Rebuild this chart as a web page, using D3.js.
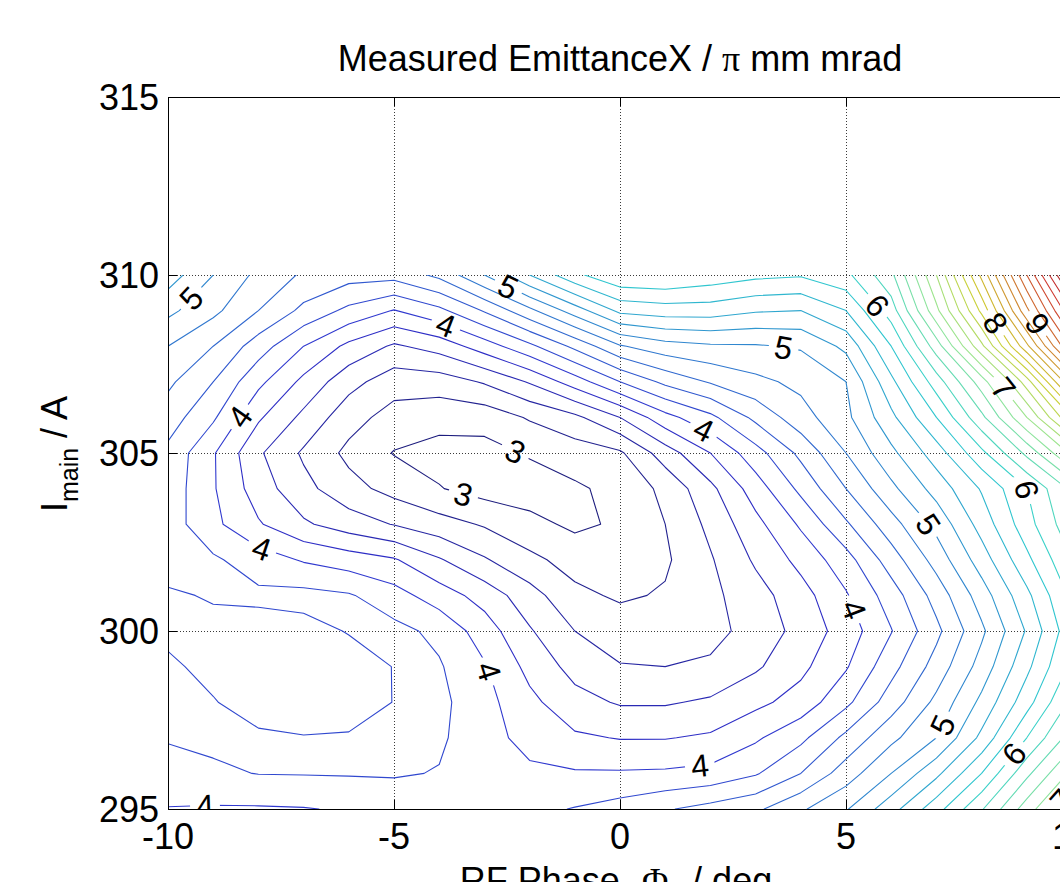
<!DOCTYPE html>
<html>
<head>
<meta charset="utf-8">
<script src="https://cdn.jsdelivr.net/npm/d3@7"></script>
<style>
  body { margin: 0; background: #ffffff; }
  svg text { font-family: "Liberation Sans", Arial, Helvetica, sans-serif; fill: #000; }
  svg tspan.sym { font-family: "Liberation Serif", "DejaVu Serif", serif; }
</style>
</head>
<body>
<svg id="chart" width="1060" height="882"></svg>
<script>
// ---- measurement grid: RF phase (deg) x main current (A) ----
const phaseDeg = [-10, -9, -8, -7, -6, -5, -4, -3, -2, -1, 0, 1, 2, 3, 4, 5, 6, 7, 8, 9, 10];
const mainCurrent = [310, 309, 308, 307, 306, 305, 304, 303, 302, 301, 300, 299, 298, 297, 296, 295];

// measured horizontal emittance, one row per main current, one column per phase
const emittance = [
  [5.30, 5.00, 4.75, 4.57, 4.48, 4.47, 4.65, 5.00, 5.40, 5.75, 5.98, 6.00, 5.92, 5.85, 5.82, 5.95, 6.35, 7.20, 8.25, 9.40, 10.60],
  [5.05, 4.85, 4.60, 4.35, 4.15, 3.99, 4.15, 4.42, 4.75, 5.10, 5.45, 5.50, 5.50, 5.42, 5.40, 5.60, 6.10, 6.95, 7.85, 8.95, 10.00],
  [4.80, 4.60, 4.30, 4.00, 3.75, 3.57, 3.68, 3.90, 4.15, 4.45, 4.78, 4.92, 4.97, 4.98, 5.02, 5.25, 5.80, 6.50, 7.35, 8.35, 9.45],
  [4.64, 4.40, 4.05, 3.75, 3.47, 3.29, 3.30, 3.42, 3.62, 3.90, 4.20, 4.45, 4.62, 4.75, 4.85, 5.00, 5.55, 6.10, 6.70, 7.50, 8.60],
  [4.50, 4.23, 3.83, 3.55, 3.28, 3.12, 3.07, 3.08, 3.22, 3.35, 3.60, 3.93, 4.15, 4.45, 4.72, 4.95, 5.35, 5.80, 6.35, 7.00, 7.80],
  [4.35, 4.02, 3.63, 3.37, 3.15, 2.99, 2.93, 2.93, 3.02, 3.10, 3.17, 3.50, 3.80, 4.12, 4.45, 4.80, 5.15, 5.50, 5.95, 6.45, 7.05],
  [4.32, 4.02, 3.70, 3.46, 3.27, 3.13, 3.01, 2.92, 2.90, 2.97, 3.06, 3.25, 3.55, 3.90, 4.25, 4.60, 4.95, 5.28, 5.62, 6.00, 6.45],
  [4.30, 4.05, 3.82, 3.63, 3.50, 3.39, 3.28, 3.18, 3.06, 2.96, 3.03, 3.20, 3.45, 3.74, 4.03, 4.37, 4.72, 5.06, 5.48, 5.92, 6.35],
  [4.30, 4.23, 4.10, 3.98, 3.90, 3.82, 3.62, 3.42, 3.25, 3.12, 3.08, 3.17, 3.38, 3.63, 3.86, 4.12, 4.50, 4.88, 5.30, 5.75, 6.20],
  [4.17, 4.22, 4.24, 4.26, 4.22, 4.08, 3.90, 3.72, 3.48, 3.25, 3.17, 3.22, 3.35, 3.52, 3.72, 3.98, 4.30, 4.68, 5.10, 5.55, 6.05],
  [4.16, 4.14, 4.12, 4.14, 4.21, 4.26, 4.15, 3.90, 3.62, 3.40, 3.31, 3.29, 3.34, 3.47, 3.67, 3.89, 4.19, 4.55, 4.96, 5.42, 5.95],
  [4.23, 4.15, 4.10, 4.09, 4.12, 4.205, 4.22, 4.02, 3.74, 3.53, 3.41, 3.40, 3.43, 3.57, 3.75, 3.98, 4.33, 4.68, 5.08, 5.55, 6.05],
  [4.27, 4.21, 4.12, 4.08, 4.10, 4.205, 4.25, 4.07, 3.85, 3.67, 3.58, 3.58, 3.63, 3.75, 3.88, 4.15, 4.50, 4.85, 5.25, 5.72, 6.25],
  [4.21, 4.24, 4.23, 4.21, 4.22, 4.24, 4.23, 4.08, 3.93, 3.83, 3.79, 3.79, 3.83, 3.97, 4.15, 4.45, 4.75, 5.00, 5.45, 6.00, 6.50],
  [4.15, 4.17, 4.205, 4.21, 4.215, 4.22, 4.19, 4.10, 4.04, 4.02, 4.02, 4.03, 4.06, 4.18, 4.40, 4.70, 5.00, 5.35, 5.80, 6.35, 6.85],
  [3.99, 3.98, 3.98, 3.99, 4.02, 4.06, 4.10, 4.12, 4.15, 4.21, 4.28, 4.38, 4.47, 4.56, 4.77, 4.98, 5.32, 5.72, 6.18, 6.70, 7.20]
];

// contour levels
const levelFirst = 3.0;
const levelLast = 10.8;
const levelStep = 0.2;

// axis ticks
const xTicks = [-10, -5, 0, 5, 10];
const yTicks = [295, 300, 305, 310, 315];

// inline contour labels: level and where along the line it sits
const labelLevel   = [5, 4, 5, 4, 3, 3, 4, 4, 4, 4, 4, 4, 5, 6, 8, 9, 7, 6, 5, 5, 6, 7];
const labelPhase   = [-9.45, -3.87, -2.54, -8.63, -2.32, -3.50, 1.88, -7.92, 5.15, -3.03, 1.77, -9.18, 3.65, 5.71, 8.34, 9.29, 8.52, 8.96, 6.86, 7.23, 8.70, 9.51];
const labelCurrent = [309.30, 308.54, 309.49, 306.21, 305.03, 303.68, 305.73, 302.33, 300.59, 298.82, 296.18, 295.03, 308.17, 309.16, 308.68, 308.68, 306.85, 303.96, 303.03, 297.30, 296.57, 295.53];

// ---- layout ----
const W = 1060, H = 882;
const axLeft = 168, axTop = 97, axRight = 1072, axBottom = 809;
const fontSize = 36;
const labelFont = 32;

const x = d3.scaleLinear().domain([-10, 10]).range([axLeft, axRight]);
const y = d3.scaleLinear().domain([295, 315]).range([axBottom, axTop]);

// jet colormap, slightly muted
const jetStops = [0, 0.125, 0.375, 0.625, 0.875, 1];
const jetColors = ["#000090", "#0000ff", "#00ffff", "#ffff00", "#ff0000", "#800000"];
const cMin = 2.9, cMax = 10.9;
const jet = d3.scaleLinear()
  .domain(jetStops.map(t => cMin + t * (cMax - cMin)))
  .range(jetColors)
  .interpolate(d3.interpolateRgb)
  .clamp(true);
function lineColor(v) {
  const c = d3.hsl(jet(v));
  c.s *= 0.62;
  return c.formatHex();
}

const svg = d3.select("#chart");
const defs = svg.append("defs");

const nx = phaseDeg.length, ny = mainCurrent.length;
const dataLeft = x(phaseDeg[0]), dataRight = x(phaseDeg[nx - 1]);
const dataTop = y(mainCurrent[0]), dataBottom = y(mainCurrent[ny - 1]);

defs.append("clipPath").attr("id", "data-clip").append("rect")
  .attr("x", dataLeft).attr("y", dataTop)
  .attr("width", dataRight - dataLeft).attr("height", dataBottom - dataTop);
defs.append("clipPath").attr("id", "axes-clip").append("rect")
  .attr("x", axLeft).attr("y", axTop)
  .attr("width", axRight - axLeft).attr("height", axBottom - axTop);

// ---- grid (dotted) ----
const gridG = svg.append("g").attr("stroke", "#3a3a3a").attr("stroke-width", 1)
  .attr("stroke-dasharray", "1,2");
xTicks.filter(t => t > -10 && t < 10).forEach(t => {
  gridG.append("line").attr("x1", x(t) + 0.5).attr("x2", x(t) + 0.5).attr("y1", axTop).attr("y2", axBottom);
});
yTicks.filter(t => t > 295 && t < 315).forEach(t => {
  gridG.append("line").attr("x1", axLeft).attr("x2", axRight).attr("y1", y(t) + 0.5).attr("y2", y(t) + 0.5);
});

// ---- contours ----
const flat = emittance.flat();
const nLevels = Math.round((levelLast - levelFirst) / levelStep) + 1;
const levels = d3.range(nLevels).map(i => +(levelFirst + i * levelStep).toFixed(1));
const contours = d3.contours().size([nx, ny]).thresholds(levels)(flat);

const gxToPhase = d3.scaleLinear().domain([0.5, nx - 0.5]).range([phaseDeg[0], phaseDeg[nx - 1]]);
const gyToCurrent = d3.scaleLinear().domain([0.5, ny - 0.5]).range([mainCurrent[0], mainCurrent[ny - 1]]);
const projection = d3.geoTransform({
  point(gx, gy) { this.stream.point(x(gxToPhase(gx)), y(gyToCurrent(gy))); }
});
const path = d3.geoPath(projection);

const inside = p => p[0] >= dataLeft - 0.5 && p[0] <= dataRight + 0.5 &&
                    p[1] >= dataTop - 0.5 && p[1] <= dataBottom + 0.5;

function pixelRings(c) {
  return c.coordinates.flatMap(poly => poly.map(ring =>
    ring.map(([gx, gy]) => [x(gxToPhase(gx)), y(gyToCurrent(gy))])));
}

function snapToLine(c, tx, ty) {
  let best = null;
  for (const ring of pixelRings(c)) {
    for (let i = 0; i + 1 < ring.length; i++) {
      const a = ring[i], b = ring[i + 1];
      if (!inside(a) || !inside(b)) continue;
      const dx = b[0] - a[0], dy = b[1] - a[1];
      const L2 = dx * dx + dy * dy;
      if (!L2) continue;
      let t = ((tx - a[0]) * dx + (ty - a[1]) * dy) / L2;
      t = Math.max(0, Math.min(1, t));
      const px = a[0] + t * dx, py = a[1] + t * dy;
      const d = (px - tx) ** 2 + (py - ty) ** 2;
      if (!best || d < best.d) best = { d, px, py, angle: Math.atan2(dy, dx) * 180 / Math.PI };
    }
  }
  if (best) {
    while (best.angle > 90) best.angle -= 180;
    while (best.angle < -90) best.angle += 180;
  }
  return best;
}

// place labels and cut gaps into their lines
const placed = [];
labelLevel.forEach((lv, i) => {
  const c = contours.find(k => Math.abs(k.value - lv) < 1e-6);
  if (!c) return;
  const s = snapToLine(c, x(labelPhase[i]), y(labelCurrent[i]));
  if (s) placed.push({ level: lv, text: String(lv), ...s });
});

const contourG = svg.append("g").attr("clip-path", "url(#data-clip)");
contours.forEach((c, i) => {
  const mine = placed.filter(p => Math.abs(p.level - c.value) < 1e-6);
  const el = contourG.append("path")
    .attr("d", path(c))
    .attr("fill", "none")
    .attr("stroke", lineColor(c.value))
    .attr("stroke-width", 1.1)
    .attr("stroke-linejoin", "round");
  if (mine.length) {
    const id = "gap-" + i;
    const m = defs.append("mask").attr("id", id)
      .attr("maskUnits", "userSpaceOnUse")
      .attr("x", 0).attr("y", 0).attr("width", W).attr("height", H);
    m.append("rect").attr("x", 0).attr("y", 0).attr("width", W).attr("height", H).attr("fill", "white");
    mine.forEach(p => {
      const w = labelFont * 0.62 * p.text.length + 10, h = labelFont * 0.82;
      m.append("rect").attr("fill", "black")
        .attr("x", -w / 2).attr("y", -h / 2).attr("width", w).attr("height", h)
        .attr("transform", `translate(${p.px},${p.py}) rotate(${p.angle})`);
    });
    el.attr("mask", `url(#${id})`);
  }
});

// contour labels
const labelG = svg.append("g").attr("clip-path", "url(#axes-clip)");
placed.forEach(p => {
  labelG.append("text")
    .attr("transform", `translate(${p.px},${p.py}) rotate(${p.angle})`)
    .attr("text-anchor", "middle")
    .attr("dy", "0.36em")
    .attr("font-size", labelFont)
    .text(p.text);
});

// ---- axes box and ticks ----
const axG = svg.append("g").attr("stroke", "#000").attr("stroke-width", 1).attr("fill", "none");
axG.append("rect").attr("x", axLeft + 0.5).attr("y", axTop + 0.5)
  .attr("width", axRight - axLeft).attr("height", axBottom - axTop);
const tickLen = 9;
xTicks.forEach(t => {
  axG.append("line").attr("x1", x(t) + 0.5).attr("x2", x(t) + 0.5).attr("y1", axBottom).attr("y2", axBottom - tickLen);
  axG.append("line").attr("x1", x(t) + 0.5).attr("x2", x(t) + 0.5).attr("y1", axTop).attr("y2", axTop + tickLen);
});
yTicks.forEach(t => {
  axG.append("line").attr("x1", axLeft).attr("x2", axLeft + tickLen).attr("y1", y(t) + 0.5).attr("y2", y(t) + 0.5);
  axG.append("line").attr("x1", axRight).attr("x2", axRight - tickLen).attr("y1", y(t) + 0.5).attr("y2", y(t) + 0.5);
});

// tick labels
xTicks.forEach(t => {
  svg.append("text").attr("x", x(t)).attr("y", axBottom + 40)
    .attr("text-anchor", "middle").attr("font-size", fontSize)
    .text(t < 0 ? "-" + Math.abs(t) : String(t));
});
yTicks.forEach(t => {
  svg.append("text").attr("x", axLeft - 9).attr("y", y(t))
    .attr("dy", "0.36em").attr("text-anchor", "end").attr("font-size", fontSize)
    .text(String(t));
});

// title
const title = svg.append("text").attr("x", (axLeft + axRight) / 2).attr("y", 71)
  .attr("text-anchor", "middle").attr("font-size", fontSize);
title.append("tspan").text("Measured EmittanceX / ");
title.append("tspan").attr("class", "sym").text("\u03c0");
title.append("tspan").text(" mm mrad");

// x axis label (runs off the bottom edge)
const xl = svg.append("text").attr("x", (axLeft + axRight) / 2 - 4).attr("y", 893)
  .attr("text-anchor", "middle").attr("font-size", fontSize);
xl.append("tspan").text("RF Phase -");
xl.append("tspan").attr("class", "sym").text("\u03a6");
xl.append("tspan").attr("font-size", 25).attr("dy", 9).text("0");
xl.append("tspan").attr("dy", -9).text(" / deg");

// y axis label
const yl = svg.append("text").attr("transform", "translate(67,454) rotate(-90)")
  .attr("text-anchor", "middle").attr("font-size", fontSize);
yl.append("tspan").text("I");
yl.append("tspan").attr("font-size", 25).attr("dy", 11).text("main");
yl.append("tspan").attr("dy", -11).text(" / A");
</script>
</body>
</html>
